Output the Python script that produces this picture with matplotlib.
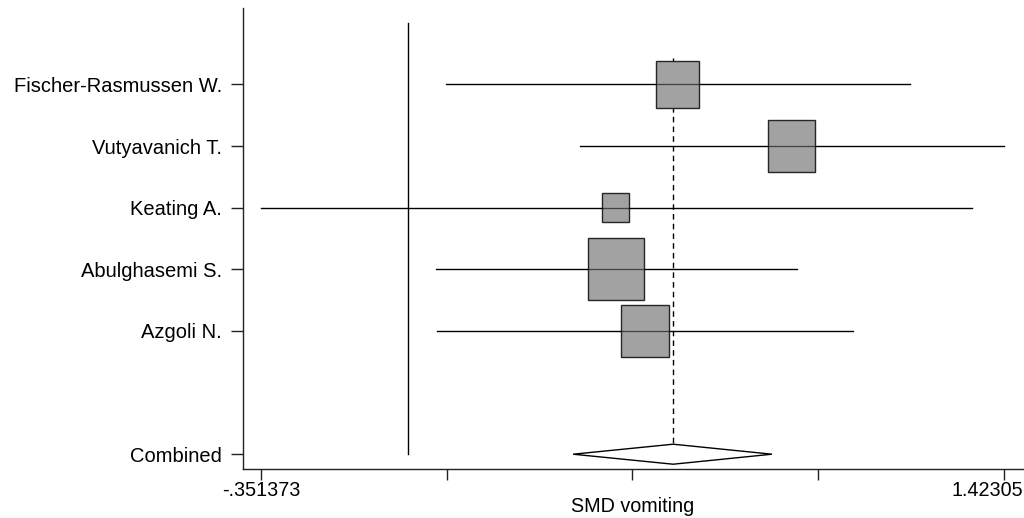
import matplotlib
matplotlib.use("Agg")
import matplotlib.pyplot as plt
from matplotlib.patches import Rectangle, Polygon
from matplotlib.transforms import ScaledTranslation
import numpy as np

plt.rcParams['font.family'] = ['Liberation Sans', 'DejaVu Sans']

studies = ["Fischer-Rasmussen W.", "Vutyavanich T.", "Keating A.", "Abulghasemi S.", "Azgoli N."]
smd = [0.643, 0.916, 0.496, 0.496, 0.566]
ci_low = [0.090, 0.410, -0.351373, 0.066, 0.069]
ci_high = [1.199, 1.42305, 1.347, 0.929, 1.062]
weights = [18.1, 21.6, 7.1, 30.7, 22.5]
combined_label = "Combined"
combined = 0.633
combined_low = 0.394
combined_high = 0.869
xmin_label = "-.351373"
xmax_label = "1.42305"
xlabel = "SMD vomiting"

fig = plt.figure(figsize=(10.24, 5.18), dpi=100)
ax = fig.add_axes([0.237, 0.0946, 0.763, 0.890])

xmin, xmax = -0.351373, 1.42305
rng = xmax - xmin
scale_px = 743.0 / rng  # pixels per data unit
row_px = 61.6
ax.set_xlim(xmin - 18.3 / scale_px, xmax + 20 / scale_px)
ax.set_ylim(7.24, -0.24)

ys = np.arange(1, len(studies) + 1)
y_comb = 7

# null line
ax.plot([0, 0], [0, 7], color='black', lw=1.0)
# combined dashed line
ax.plot([combined, combined], [0.57, y_comb - 0.16], color='black', lw=1.0,
        linestyle=(0, (4, 3)))

c = 56.0 / np.sqrt(max(weights))
for y, est, lo, hi, w in zip(ys, smd, ci_low, ci_high, weights):
    ax.plot([lo, hi], [y, y], color='black', lw=0.9, zorder=2)
    side = c * np.sqrt(w)
    wd = side / scale_px
    ht = side * 1.1 / row_px
    ax.add_patch(Rectangle((est - wd / 2, y - ht / 2), wd, ht, facecolor='#a2a2a2',
                           edgecolor='#262626', lw=1.0, zorder=3))
    ax.plot([lo, hi], [y, y], color='black', lw=0.9, zorder=4, alpha=0.6)

h = 10.0 / row_px
ax.add_patch(Polygon([(combined_low, y_comb), (combined, y_comb - h),
                      (combined_high, y_comb), (combined, y_comb + h)],
                     closed=True, facecolor='white', edgecolor='black', lw=1.0, zorder=3))

ax.set_yticks(list(ys) + [y_comb])
ax.set_yticklabels(studies + [combined_label])
ticks = [xmin + k * rng / 4 for k in range(5)]
ax.set_xticks(ticks)
ax.set_xticklabels([xmin_label, "", "", "", xmax_label])

for s in ['top', 'right']:
    ax.spines[s].set_visible(False)
for s in ['left', 'bottom']:
    ax.spines[s].set_linewidth(1.0)
    ax.spines[s].set_color('#222222')

ax.tick_params(axis='y', length=9, width=1.0, pad=6, labelsize=14.5, colors='#222222', labelcolor='black')
ax.tick_params(axis='x', length=8, width=1.0, pad=1, labelsize=14.2, colors='#222222', labelcolor='black')

lbls = ax.get_xticklabels()
lbls[-1].set_horizontalalignment('right')
lbls[-1].set_transform(lbls[-1].get_transform() + ScaledTranslation(19 / 100, 0, fig.dpi_scale_trans))

fig.text(633 / 1024, 5.5 / 518, xlabel, fontsize=14.2, ha='center', va='baseline')

fig.savefig("out.png", dpi=100)
